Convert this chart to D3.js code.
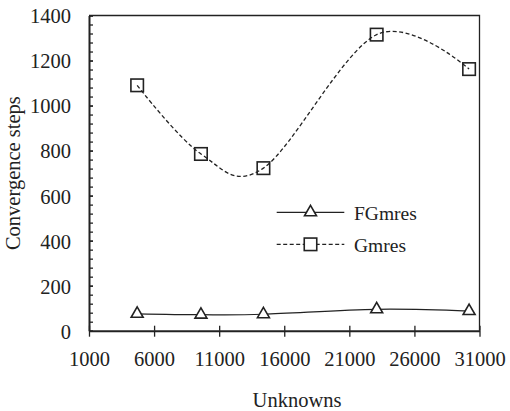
<!DOCTYPE html>
<html>
<head>
<meta charset="utf-8">
<script src="https://cdn.jsdelivr.net/npm/d3@7"></script>
<style>
  html, body { margin: 0; padding: 0; background: #fff; }
  svg { display: block; }
</style>
</head>
<body>
<svg id="chart" width="510" height="411"></svg>
<script>
// Problem sizes (number of unknowns) and convergence steps per solver
const unknowns = [4700, 9600, 14400, 23100, 30200];
const fgmresSteps = [75, 71, 73, 95, 87];
const gmresSteps = [1090, 785, 722, 1315, 1162];
const seriesNames = ["FGmres", "Gmres"];
const xTickValues = [1000, 6000, 11000, 16000, 21000, 26000, 31000];
const yTickValues = [0, 200, 400, 600, 800, 1000, 1200, 1400];
const xTitle = "Unknowns";
const yTitle = "Convergence steps";

const ink = "#222";
const serif = "\"Liberation Serif\"";
const svg = d3.select("#chart");

const plotL = 89, plotR = 479.5, plotT = 15.5, plotB = 330.7;
const x = d3.scaleLinear().domain([1000, 31000]).range([plotL, plotR]);
const y = d3.scaleLinear().domain([0, 1400]).range([plotB, plotT]);

function serifText(sel, size) {
  return sel.style("font-family", serif).style("font-size", size + "px").attr("fill", ink);
}

// Frame: thin top and right edges
svg.append("path")
  .attr("d", `M${plotL},${plotT}H${plotR}V${plotB}`)
  .attr("fill", "none").attr("stroke", ink).attr("stroke-width", 1.3);

// Y axis: ticks inside the plot, labels outside
const yMinor = d3.range(0, 1401, 40);
const yAxisMinor = svg.append("g").attr("transform", `translate(${plotL},0)`)
  .call(d3.axisLeft(y).tickValues(yMinor).tickSize(-4).tickFormat(""));
yAxisMinor.select(".domain").remove();
yAxisMinor.selectAll("line").attr("stroke", ink).attr("stroke-width", 1.3);

const yAxis = svg.append("g").attr("transform", `translate(${plotL},0)`)
  .call(d3.axisLeft(y).tickValues(yTickValues).tickSize(-4).tickPadding(18)
    .tickSizeOuter(0).tickFormat(d3.format("d")));
yAxis.select(".domain").attr("stroke", ink).attr("stroke-width", 2);
yAxis.selectAll("line").attr("stroke", ink).attr("stroke-width", 1.3);
serifText(yAxis.selectAll("text"), 20.5).attr("dy", "0.36em");

// X axis: ticks crossing the axis line
const xAxisUp = svg.append("g").attr("transform", `translate(0,${plotB})`)
  .call(d3.axisBottom(x).tickValues(xTickValues).tickSize(-5).tickFormat(""));
xAxisUp.select(".domain").remove();
xAxisUp.selectAll("line").attr("stroke", ink).attr("stroke-width", 1.3);

const xAxis = svg.append("g").attr("transform", `translate(0,${plotB})`)
  .call(d3.axisBottom(x).tickValues(xTickValues).tickSize(6).tickSizeOuter(0)
    .tickFormat(d3.format("d")));
xAxis.select(".domain").attr("stroke", ink).attr("stroke-width", 2);
xAxis.selectAll("line").attr("stroke", ink).attr("stroke-width", 1.3);
serifText(xAxis.selectAll("text"), 20.5).attr("y", 35.3).attr("dy", 0);

// Axis titles
serifText(svg.append("text"), 20.5).attr("x", 297).attr("y", 407)
  .attr("text-anchor", "middle").text(xTitle);
serifText(svg.append("text"), 20.5)
  .attr("transform", `translate(20,${(plotT + plotB) / 2}) rotate(-90)`)
  .attr("text-anchor", "middle").text(yTitle);

// Smoothed series lines
const line = vals => d3.line()
  .x((d, i) => x(unknowns[i])).y(d => y(d))
  .curve(d3.curveCardinal.tension(0))(vals);

svg.append("path").attr("d", line(gmresSteps))
  .attr("fill", "none").attr("stroke", ink).attr("stroke-width", 1.3)
  .attr("stroke-dasharray", "4,2.5");
svg.append("path").attr("d", line(fgmresSteps))
  .attr("fill", "none").attr("stroke", ink).attr("stroke-width", 1.2);

// Markers
const sq = 12.5, tri = d3.symbol().type(d3.symbolTriangle).size(62)();
function square(g, cx, cy, fill) {
  g.append("rect").attr("x", cx - sq / 2).attr("y", cy - sq / 2)
    .attr("width", sq).attr("height", sq)
    .attr("fill", fill).attr("stroke", ink).attr("stroke-width", 1.6);
}
function triangle(g, cx, cy) {
  g.append("path").attr("d", tri).attr("transform", `translate(${cx},${cy})`)
    .attr("fill", "#fff").attr("stroke", ink).attr("stroke-width", 1.6);
}
const marks = svg.append("g");
gmresSteps.forEach((v, i) => square(marks, x(unknowns[i]), y(v), "none"));
fgmresSteps.forEach((v, i) => triangle(marks, x(unknowns[i]), y(v)));

// Legend
const legend = svg.append("g");
const lx0 = 276.7, lx1 = 344.3, ly = [212.3, 244.3];
legend.append("line").attr("x1", lx0).attr("x2", lx1).attr("y1", ly[0]).attr("y2", ly[0])
  .attr("stroke", ink).attr("stroke-width", 1.2);
triangle(legend, (lx0 + lx1) / 2, ly[0]);
legend.append("line").attr("x1", lx0).attr("x2", lx1).attr("y1", ly[1]).attr("y2", ly[1])
  .attr("stroke", ink).attr("stroke-width", 1.3).attr("stroke-dasharray", "4,2.5");
square(legend, (lx0 + lx1) / 2, ly[1], "#fff");
seriesNames.forEach((name, i) => {
  serifText(legend.append("text"), 19.5).attr("x", 354).attr("y", ly[i] + 7.2).text(name);
});
</script>
</body>
</html>
